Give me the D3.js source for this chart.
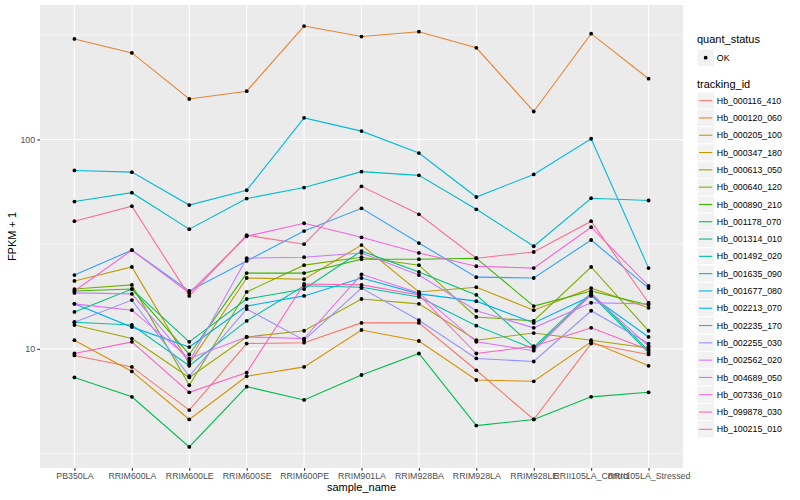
<!DOCTYPE html>
<html>
<head>
<meta charset="utf-8">
<script src="https://cdn.jsdelivr.net/npm/d3@7"></script>
<style>
  body { margin: 0; background: #fff; }
  text { font-family: "Liberation Sans", Arial, sans-serif; }
</style>
</head>
<body>
<div id="chart"></div>
<script>
var width = 800, height = 500;
var margin = {top: 5, right: 117, bottom: 32, left: 40};

// samples on the x axis
var samples = ["PB350LA", "RRIM600LA", "RRIM600LE", "RRIM600SE", "RRIM600PE", "RRIM901LA",
  "RRIM928BA", "RRIM928LA", "RRIM928LE", "RRII105LA_Control", "RRII105LA_Stressed"];

var trackingIds = ["Hb_000116_410", "Hb_000120_060", "Hb_000205_100", "Hb_000347_180", "Hb_000613_050",
  "Hb_000640_120", "Hb_000890_210", "Hb_001178_070", "Hb_001314_010", "Hb_001492_020",
  "Hb_001635_090", "Hb_001677_080", "Hb_002213_070", "Hb_002235_170", "Hb_002255_030",
  "Hb_002562_020", "Hb_004689_050", "Hb_007336_010", "Hb_099878_030", "Hb_100215_010"];

// FPKM + 1, one array per tracking_id (same order as samples)
var hb000116_410 = [9.3, 8.2, 5.1, 10.6, 10.7, 13.3, 13.3, 7.9, 4.6, 10.6, 9.4];
var hb000120_060 = [302, 259, 156, 170, 348, 310, 327, 274, 136, 320, 195];
var hb000205_100 = [11.0, 7.8, 4.6, 7.4, 8.2, 12.3, 10.9, 7.1, 7.0, 10.8, 8.3];
var hb000347_180 = [21.1, 24.6, 8.5, 21.8, 21.5, 31.3, 18.7, 19.7, 15.3, 19.5, 15.7];
var hb000613_050 = [13.0, 11.2, 7.3, 11.4, 12.2, 17.3, 16.4, 11.0, 11.9, 11.0, 10.1];
var hb000640_120 = [19.3, 20.2, 6.7, 18.7, 25.1, 27.4, 25.1, 14.2, 13.6, 24.6, 12.2];
var hb000890_210 = [18.9, 19.3, 9.4, 23.0, 23.0, 26.8, 26.8, 27.1, 16.0, 18.9, 16.2];
var hb001178_070 = [7.3, 5.9, 3.4, 6.6, 5.7, 7.5, 9.5, 4.3, 4.6, 5.9, 6.2];
var hb001314_010 = [15.0, 19.3, 10.8, 17.3, 19.3, 29.3, 23.3, 18.1, 10.2, 18.5, 9.8];
var hb001492_020 = [13.4, 13.0, 8.3, 13.6, 20.0, 19.7, 17.7, 12.9, 10.0, 18.1, 9.6];
var hb001635_090 = [50.5, 55.7, 37.3, 52.2, 58.9, 70.2, 67.4, 46.4, 30.9, 52.4, 51.1];
var hb001677_080 = [71.1, 69.8, 48.6, 57.2, 126.8, 109.6, 86.1, 53.1, 68.1, 100.8, 24.3];
var hb002213_070 = [16.4, 12.7, 10.2, 16.0, 17.9, 21.8, 18.3, 16.9, 13.3, 17.9, 11.4];
var hb002235_170 = [22.5, 29.6, 18.9, 26.3, 36.5, 46.9, 32.0, 22.0, 21.8, 33.1, 19.5];
var hb002255_030 = [13.4, 17.1, 7.4, 15.5, 11.0, 19.5, 13.7, 9.0, 8.7, 15.2, 10.6];
var hb002562_020 = [18.5, 18.3, 8.7, 27.1, 27.4, 28.7, 22.5, 15.2, 12.6, 16.6, 16.4];
var hb004689_050 = [16.4, 15.3, 9.0, 11.4, 11.2, 22.7, 18.5, 10.8, 9.8, 18.3, 10.3];
var hb007336_010 = [18.9, 29.6, 18.5, 34.5, 39.8, 34.1, 28.7, 24.8, 24.3, 38.1, 20.0];
var hb099878_030 = [9.5, 10.8, 6.2, 7.7, 20.4, 20.2, 18.1, 9.5, 10.3, 12.6, 9.9];
var hb100215_010 = [40.7, 48.0, 17.9, 34.9, 31.6, 59.7, 43.9, 27.1, 29.0, 40.7, 16.6];

var yTicks = [10, 100];
var yMinor = [Math.sqrt(10), Math.sqrt(1000), Math.sqrt(100000)];

// ggplot default hue palette for 20 groups
var colors = ["#F8766D", "#EA8331", "#D89000", "#C09B00", "#A3A500", "#7CAE00", "#39B600",
  "#00BB4E", "#00BF7D", "#00C1A3", "#00BFC4", "#00BAE0", "#00B0F6", "#35A2FF", "#9590FF",
  "#C77CFF", "#E76BF3", "#FA62DB", "#FF62BC", "#FF6C91"];

var allSeries = [hb000116_410, hb000120_060, hb000205_100, hb000347_180, hb000613_050,
  hb000640_120, hb000890_210, hb001178_070, hb001314_010, hb001492_020,
  hb001635_090, hb001677_080, hb002213_070, hb002235_170, hb002255_030,
  hb002562_020, hb004689_050, hb007336_010, hb099878_030, hb100215_010];

var series = trackingIds.map(function(id, i) {
  return {id: id, values: allSeries[i].map(function(v, j) { return {sample: samples[j], value: v}; })};
});

var color = d3.scaleOrdinal().domain(trackingIds).range(colors);

var svg = d3.select("#chart").append("svg")
  .attr("width", width)
  .attr("height", height);

var x = d3.scalePoint()
  .domain(samples)
  .range([margin.left, width - margin.right])
  .padding(0.6);

// log scale with 5% expansion like ggplot
var ext = d3.extent(d3.merge(allSeries)).map(Math.log10);
var pad = (ext[1] - ext[0]) * 0.05;
var y = d3.scaleLog()
  .domain([Math.pow(10, ext[0] - pad), Math.pow(10, ext[1] + pad)])
  .range([height - margin.bottom, margin.top]);

// panel
svg.append("rect")
  .attr("x", margin.left)
  .attr("y", margin.top)
  .attr("width", width - margin.left - margin.right)
  .attr("height", height - margin.top - margin.bottom)
  .attr("fill", "#EBEBEB");

var grid = svg.append("g");
grid.selectAll(".minor")
  .data(yMinor.filter(function(d) { return d > y.domain()[0] && d < y.domain()[1]; }))
  .enter().append("line")
    .attr("x1", margin.left).attr("x2", width - margin.right)
    .attr("y1", d => y(d)).attr("y2", d => y(d))
    .attr("stroke", "#fff").attr("stroke-width", 0.55);
grid.selectAll(".major")
  .data(yTicks)
  .enter().append("line")
    .attr("x1", margin.left).attr("x2", width - margin.right)
    .attr("y1", d => y(d)).attr("y2", d => y(d))
    .attr("stroke", "#fff").attr("stroke-width", 1.1);
grid.selectAll(".vgrid")
  .data(samples)
  .enter().append("line")
    .attr("x1", d => x(d)).attr("x2", d => x(d))
    .attr("y1", margin.top).attr("y2", height - margin.bottom)
    .attr("stroke", "#fff").attr("stroke-width", 1.1);

// lines
var line = d3.line()
  .x(d => x(d.sample))
  .y(d => y(d.value));

svg.append("g").selectAll("path")
  .data(series)
  .enter().append("path")
    .attr("d", d => line(d.values))
    .attr("fill", "none")
    .attr("stroke", d => color(d.id))
    .attr("stroke-width", 1.1);

// points
svg.append("g").selectAll("g")
  .data(series)
  .enter().append("g")
  .selectAll("circle")
  .data(d => d.values)
  .enter().append("circle")
    .attr("cx", d => x(d.sample))
    .attr("cy", d => y(d.value))
    .attr("r", 1.9)
    .attr("fill", "#000");

// axes
var xAxis = svg.append("g")
  .attr("transform", `translate(0,${height - margin.bottom})`)
  .call(d3.axisBottom(x).tickSize(2.75).tickPadding(2.5));
var yAxis = svg.append("g")
  .attr("transform", `translate(${margin.left},0)`)
  .call(d3.axisLeft(y).tickValues(yTicks).tickFormat(d3.format("d")).tickSize(2.75).tickPadding(2.2));
[xAxis, yAxis].forEach(function(a) {
  a.select(".domain").remove();
  a.selectAll(".tick line").attr("stroke", "#333").attr("stroke-width", 1.1);
  a.selectAll(".tick text")
    .attr("fill", "#4D4D4D")
    .style("font-size", "8.8px")
    .style("font-family", "'Liberation Sans', Arial, sans-serif");
});

svg.append("text")
  .attr("x", (margin.left + width - margin.right) / 2)
  .attr("y", 491)
  .attr("text-anchor", "middle")
  .style("font-size", "11px")
  .text("sample_name");

svg.append("text")
  .attr("transform", `translate(16,${(margin.top + height - margin.bottom) / 2}) rotate(-90)`)
  .attr("text-anchor", "middle")
  .style("font-size", "11px")
  .text("FPKM + 1");

// legend
var legendX = 697, keySize = 17.3;
var legend = svg.append("g");
legend.append("text")
  .attr("x", legendX).attr("y", 43)
  .style("font-size", "11px")
  .text("quant_status");
legend.append("rect")
  .attr("x", legendX).attr("y", 49)
  .attr("width", keySize).attr("height", keySize)
  .attr("fill", "#F2F2F2").attr("stroke", "#fff");
legend.append("circle")
  .attr("cx", legendX + keySize / 2).attr("cy", 49 + keySize / 2)
  .attr("r", 1.9).attr("fill", "#000");
legend.append("text")
  .attr("x", legendX + keySize + 2.5).attr("y", 49 + keySize / 2)
  .attr("dy", "0.35em")
  .style("font-size", "8.8px")
  .text("OK");

legend.append("text")
  .attr("x", legendX).attr("y", 88)
  .style("font-size", "11px")
  .text("tracking_id");

var keys = legend.selectAll(".key")
  .data(trackingIds)
  .enter().append("g")
    .attr("transform", (d, i) => `translate(${legendX},${92 + i * keySize})`);
keys.append("rect")
  .attr("width", keySize).attr("height", keySize)
  .attr("fill", "#F2F2F2").attr("stroke", "#fff");
keys.append("line")
  .attr("x1", 2).attr("x2", keySize - 2)
  .attr("y1", keySize / 2).attr("y2", keySize / 2)
  .attr("stroke", d => color(d)).attr("stroke-width", 1.1);
keys.append("text")
  .attr("x", keySize + 2.5).attr("y", keySize / 2)
  .attr("dy", "0.35em")
  .style("font-size", "8.8px")
  .text(d => d);
</script>
</body>
</html>
